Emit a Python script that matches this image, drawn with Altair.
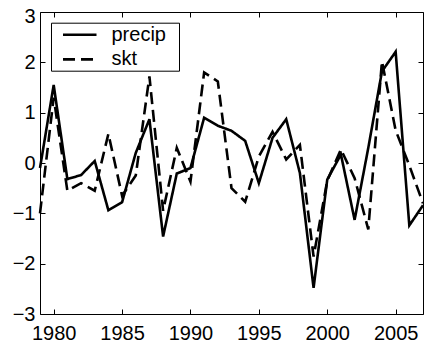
import altair as alt
import pandas as pd

years = list(range(1979, 2008))
precip = [-0.10, 1.55, -0.32, -0.24, 0.04, -0.94, -0.78, 0.20, 0.87, -1.46,
          -0.21, -0.10, 0.90, 0.74, 0.64, 0.44, -0.40, 0.50, 0.87, -0.20,
          -2.48, -0.33, 0.17, -1.13, 0.30, 1.82, 2.21, -1.24, -0.84]
skt = [-1.00, 1.30, -0.55, -0.40, -0.55, 0.58, -0.65, -0.25, 1.72, -0.95,
       0.30, -0.37, 1.80, 1.62, -0.50, -0.77, 0.13, 0.62, 0.07, 0.36,
       -1.86, -0.35, 0.27, -0.30, -1.32, 2.02, 0.65, -0.05, -0.80]
series_names = ["precip", "skt"]
x_ticks = [1980, 1985, 1990, 1995, 2000, 2005]
y_ticks = [-3, -2, -1, 0, 1, 2, 3]

df = pd.DataFrame({
    "year": years * 2,
    "value": precip + skt,
    "series": [series_names[0]] * len(years) + [series_names[1]] * len(years),
})

FONT = "Liberation Sans"
FS = 20
xscale = alt.Scale(domain=[1979, 2007], nice=False, zero=False)
yscale = alt.Scale(domain=[-3, 3], nice=False, zero=False)

common_axis = dict(domain=False, grid=False, title=None, tickColor="black",
                   tickSize=5, offset=-5, tickWidth=1,
                   labelFont=FONT, labelFontSize=FS, labelColor="black")

lines = alt.Chart(df).mark_line(color="black", strokeWidth=2.6).encode(
    x=alt.X("year:Q", scale=xscale,
            axis=alt.Axis(orient="bottom", values=x_ticks, format="d",
                          labelPadding=9, **common_axis)),
    y=alt.Y("value:Q", scale=yscale,
            axis=alt.Axis(orient="left", values=y_ticks, format="d",
                          labelPadding=5,
                          labelOffset={"condition": {"test": "datum.value == 3", "value": 4.5},
                                       "value": 0},
                          **common_axis)),
    strokeDash=alt.StrokeDash(
        "series:N",
        scale=alt.Scale(domain=series_names, range=[[1, 0], [12, 6]]),
        legend=alt.Legend(
            title="\u00a0", titleOrient="right", titleFontSize=1,
            titlePadding=13,
            orient="none", legendX=11, legendY=10.7,
            direction="vertical",
            strokeColor="black", fillColor="white", padding=0.5,
            cornerRadius=0,
            symbolType="M0,0H3.35", symbolSize=400, symbolStrokeWidth=2.6,
            symbolStrokeColor="black", symbolFillColor="transparent",
            labelFont=FONT, labelFontSize=FS, labelColor="black",
            labelOffset=37, rowPadding=2.7,
        ),
    ),
)

ticks2 = alt.Chart(df).mark_line(opacity=0).encode(
    x=alt.X("year:Q", scale=xscale,
            axis=alt.Axis(orient="top", values=x_ticks, labels=False,
                          **common_axis)),
    y=alt.Y("value:Q", scale=yscale,
            axis=alt.Axis(orient="right", values=y_ticks, labels=False,
                          **common_axis)),
    detail="series:N",
)

chart = alt.layer(lines, ticks2).resolve_axis(
    x="independent", y="independent"
).properties(
    width=383, height=302,
    autosize=alt.AutoSizeParams(type="none"),
    padding={"left": 32, "top": 4, "right": 1, "bottom": 29},
    background="white",
).configure_view(stroke="black", strokeWidth=1)

chart.save("out.html", embed_options={"renderer": "svg", "actions": False})
